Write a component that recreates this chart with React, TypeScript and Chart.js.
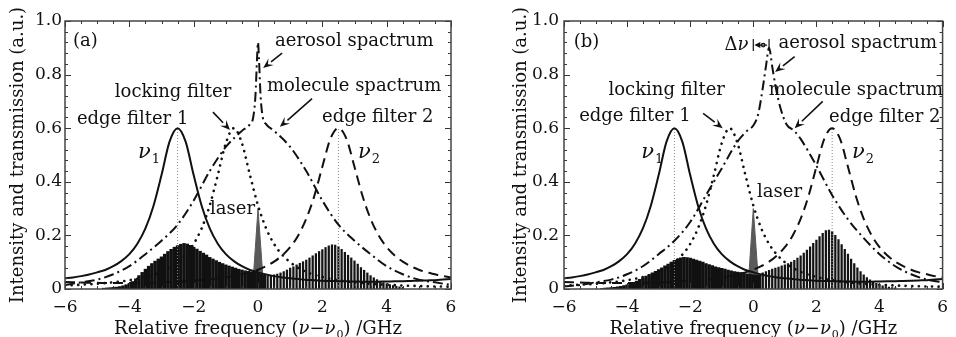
import React, { useEffect, useRef } from "react";
import { Chart, registerables } from "chart.js";

Chart.register(...registerables);

const SERIF = '"DejaVu Serif", "Liberation Serif", serif';

// ---------- data (GHz, a.u.) ----------
const gridX = [-6, -5.75, -5.5, -5.25, -5, -4.75, -4.5, -4.25, -4, -3.75, -3.5, -3.25, -3, -2.75, -2.5, -2.25, -2, -1.75, -1.5, -1.25, -1, -0.75, -0.5, -0.25, 0, 0.25, 0.5, 0.75, 1, 1.25, 1.5, 1.75, 2, 2.25, 2.5, 2.75, 3, 3.25, 3.5, 3.75, 4, 4.25, 4.5, 4.75, 5, 5.25, 5.5, 5.75, 6];

const edgeFilter1 = [0.040, 0.043, 0.048, 0.054, 0.062, 0.071, 0.085, 0.104, 0.130, 0.169, 0.226, 0.310, 0.425, 0.550, 0.600, 0.550, 0.425, 0.310, 0.226, 0.169, 0.130, 0.104, 0.085, 0.071, 0.062, 0.054, 0.048, 0.043, 0.040, 0.037, 0.034, 0.033, 0.031, 0.030, 0.029, 0.0285, 0.028, 0.0275, 0.027, 0.0275, 0.028, 0.0285, 0.029, 0.030, 0.031, 0.032, 0.033, 0.035, 0.037];

const edgeFilter2 = [0.026, 0.025, 0.024, 0.0235, 0.023, 0.0225, 0.022, 0.022, 0.022, 0.0225, 0.023, 0.0235, 0.024, 0.0255, 0.027, 0.029, 0.031, 0.0335, 0.036, 0.039, 0.043, 0.048, 0.055, 0.062, 0.072, 0.085, 0.102, 0.125, 0.156, 0.200, 0.262, 0.347, 0.456, 0.560, 0.600, 0.560, 0.456, 0.347, 0.262, 0.200, 0.156, 0.125, 0.102, 0.085, 0.072, 0.062, 0.055, 0.048, 0.043];

const lockingFilter = [0.013, 0.0143, 0.016, 0.0175, 0.0195, 0.022, 0.025, 0.028, 0.033, 0.038, 0.045, 0.053, 0.064, 0.079, 0.100, 0.128, 0.168, 0.227, 0.312, 0.425, 0.544, 0.600, 0.544, 0.425, 0.312, 0.227, 0.168, 0.128, 0.100, 0.079, 0.064, 0.053, 0.045, 0.038, 0.033, 0.028, 0.025, 0.022, 0.0195, 0.0175, 0.016, 0.0143, 0.013, 0.012, 0.011, 0.010, 0.0095, 0.009, 0.0085];

const moleculeXA = [-6, -5.5, -5, -4.5, -4, -3.5, -3, -2.5, -2, -1.5, -1, -0.5, -0.25, -0.15, -0.08, -0.03, 0, 0.03, 0.08, 0.15, 0.25, 0.5, 1, 1.5, 2, 2.5, 3, 3.5, 4, 4.5, 5, 5.5, 6];
const moleculeA = [0.015, 0.025, 0.035, 0.055, 0.085, 0.13, 0.18, 0.24, 0.33, 0.44, 0.53, 0.59, 0.615, 0.64, 0.72, 0.86, 0.92, 0.86, 0.72, 0.64, 0.615, 0.59, 0.53, 0.44, 0.33, 0.24, 0.18, 0.13, 0.085, 0.055, 0.035, 0.025, 0.015];

const moleculeXB = [-6, -5.5, -5, -4.5, -4, -3.5, -3, -2.5, -2, -1.5, -1, -0.5, -0.2, 0, 0.15, 0.3, 0.4, 0.5, 0.6, 0.7, 0.85, 1.05, 1.3, 1.5, 2, 2.5, 3, 3.5, 4, 4.5, 5, 5.5, 6];
const moleculeB = [0.01, 0.015, 0.025, 0.035, 0.055, 0.085, 0.13, 0.18, 0.25, 0.35, 0.45, 0.55, 0.59, 0.61, 0.65, 0.75, 0.83, 0.9, 0.83, 0.76, 0.68, 0.615, 0.59, 0.56, 0.46, 0.35, 0.26, 0.19, 0.13, 0.085, 0.055, 0.035, 0.025];

const laserX = [-0.17, 0, 0.18];
const laserY = [0, 0.3, 0];

const nu1 = -2.5;
const nu2 = 2.5;
const edgePeak = 0.6;

const filteredX1 = [-4.8, -4.7, -4.6, -4.5, -4.4, -4.3, -4.2, -4.1, -4.0, -3.9, -3.8, -3.7, -3.6, -3.5, -3.4, -3.3, -3.2, -3.1, -3.0, -2.9, -2.8, -2.7, -2.6, -2.5, -2.4, -2.3, -2.2, -2.1, -2.0, -1.9, -1.8, -1.7, -1.6, -1.5, -1.4, -1.3, -1.2, -1.1, -1.0, -0.9, -0.8, -0.7, -0.6, -0.5, -0.4, -0.3, -0.2, -0.1, 0.0, 0.1, 0.2];
const filtered1A = [0.003, 0.004, 0.005, 0.006, 0.007, 0.009, 0.012, 0.016, 0.021, 0.028, 0.038, 0.05, 0.062, 0.074, 0.085, 0.095, 0.104, 0.112, 0.12, 0.13, 0.14, 0.148, 0.156, 0.162, 0.167, 0.17, 0.168, 0.163, 0.156, 0.149, 0.141, 0.134, 0.127, 0.118, 0.112, 0.106, 0.1, 0.095, 0.09, 0.086, 0.082, 0.078, 0.074, 0.071, 0.068, 0.066, 0.064, 0.062, 0.06, 0.058, 0.052];
const filtered1B = [0.002, 0.003, 0.004, 0.005, 0.006, 0.008, 0.01, 0.013, 0.016, 0.02, 0.025, 0.03, 0.036, 0.042, 0.048, 0.054, 0.06, 0.066, 0.072, 0.079, 0.086, 0.093, 0.1, 0.107, 0.112, 0.116, 0.118, 0.117, 0.115, 0.112, 0.108, 0.104, 0.1, 0.095, 0.091, 0.087, 0.083, 0.08, 0.077, 0.074, 0.071, 0.068, 0.065, 0.063, 0.061, 0.059, 0.057, 0.055, 0.053, 0.052, 0.051];

const filteredX2 = [0.3, 0.4, 0.5, 0.6, 0.7, 0.8, 0.9, 1.0, 1.1, 1.2, 1.3, 1.4, 1.5, 1.6, 1.7, 1.8, 1.9, 2.0, 2.1, 2.2, 2.3, 2.4, 2.5, 2.6, 2.7, 2.8, 2.9, 3.0, 3.1, 3.2, 3.3, 3.4, 3.5, 3.6, 3.7, 3.8, 3.9, 4.0, 4.1, 4.2, 4.3, 4.4, 4.5];
const filtered2A = [0.048, 0.05, 0.053, 0.056, 0.06, 0.065, 0.071, 0.078, 0.083, 0.09, 0.096, 0.102, 0.108, 0.116, 0.124, 0.132, 0.14, 0.147, 0.155, 0.161, 0.165, 0.164, 0.158, 0.148, 0.137, 0.126, 0.116, 0.105, 0.093, 0.08, 0.07, 0.06, 0.05, 0.042, 0.035, 0.029, 0.024, 0.02, 0.016, 0.013, 0.01, 0.008, 0.006];
const filtered2B = [0.06, 0.065, 0.07, 0.074, 0.078, 0.082, 0.086, 0.09, 0.095, 0.1, 0.107, 0.115, 0.124, 0.134, 0.145, 0.157, 0.17, 0.183, 0.196, 0.208, 0.218, 0.22, 0.214, 0.2, 0.184, 0.166, 0.148, 0.13, 0.112, 0.095, 0.079, 0.065, 0.053, 0.043, 0.034, 0.027, 0.021, 0.016, 0.012, 0.009, 0.007, 0.005, 0.004];

const xTickLabels = ["\u22126", "\u22124", "\u22122", "0", "2", "4", "6"];
const yTickLabels = ["0", "0.2", "0.4", "0.6", "0.8", "1.0"];

// ---------- annotations ----------
type Seg = { t: string; it?: boolean; sub?: boolean };
type Note = { segs: Seg[]; x: number; y: number; size?: number; align?: "left" | "right" | "center" };
type Arrow = [number, number, number, number];
type Spec = {
  molX: number[]; molY: number[]; f1: number[]; f2: number[];
  yAxisWidth: number; padRight: number; yTitlePad: number; yTickPad: number;
  notes: Note[]; arrows: Arrow[]; delta?: { x0: number; x1: number; y: number };
};

const txt = (t: string): Seg[] => [{ t }];
const nuSegs = (d: string): Seg[] => [{ t: "\u03bd", it: true }, { t: d, sub: true }];

const specA: Spec = {
  molX: moleculeXA, molY: moleculeA, f1: filtered1A, f2: filtered2A,
  yAxisWidth: 65, padRight: 27, yTitlePad: 6, yTickPad: 3,
  notes: [
    { segs: txt("(a)"), x: -5.75, y: 0.907 },
    { segs: txt("aerosol spactrum"), x: 0.53, y: 0.905 },
    { segs: txt("molecule spactrum"), x: 0.28, y: 0.74 },
    { segs: txt("locking filter"), x: -4.45, y: 0.715 },
    { segs: txt("edge filter 1"), x: -5.63, y: 0.616 },
    { segs: txt("edge filter 2"), x: 1.99, y: 0.624 },
    { segs: txt("laser"), x: -1.49, y: 0.28 },
    { segs: nuSegs("1"), x: -3.73, y: 0.49, size: 21 },
    { segs: nuSegs("2"), x: 3.11, y: 0.49, size: 21 },
  ],
  arrows: [
    [0.75, 0.88, 0.16, 0.825],
    [-1.4, 0.66, -0.87, 0.593],
    [1.68, 0.71, 0.68, 0.605],
  ],
};

const specB: Spec = {
  molX: moleculeXB, molY: moleculeB, f1: filtered1B, f2: filtered2B,
  yAxisWidth: 86, padRight: 6, yTitlePad: 31, yTickPad: 5,
  notes: [
    { segs: txt("(b)"), x: -5.69, y: 0.904 },
    { segs: txt("aerosol spactrum"), x: 0.8, y: 0.898 },
    { segs: [{ t: "\u0394" }, { t: "\u03bd", it: true }], x: -0.15, y: 0.89, align: "right" },
    { segs: txt("molecule spactrum"), x: 0.49, y: 0.724 },
    { segs: txt("locking filter"), x: -4.59, y: 0.724 },
    { segs: txt("edge filter 1"), x: -5.52, y: 0.628 },
    { segs: txt("edge filter 2"), x: 2.4, y: 0.624 },
    { segs: txt("laser"), x: 0.12, y: 0.344 },
    { segs: nuSegs("1"), x: -3.55, y: 0.49, size: 21 },
    { segs: nuSegs("2"), x: 3.13, y: 0.49, size: 21 },
  ],
  arrows: [
    [1.31, 0.867, 0.69, 0.81],
    [2.2, 0.7, 1.31, 0.6],
    [-1.59, 0.655, -0.97, 0.6],
  ],
  delta: { x0: 0, x1: 0.5, y: 0.91 },
};

// ---------- drawing helpers ----------
function drawSegs(ctx: CanvasRenderingContext2D, segs: Seg[], x: number, y: number, size: number, align: string) {
  const fontOf = (s: Seg) => `${s.it ? "italic " : ""}${s.sub ? Math.round(size * 0.62) : size}px ${SERIF}`;
  let total = 0;
  const widths = segs.map((s) => {
    ctx.font = fontOf(s);
    const w = ctx.measureText(s.t).width + (s.sub ? 1 : 0);
    total += w;
    return w;
  });
  let cx = align === "right" ? x - total : align === "center" ? x - total / 2 : x;
  ctx.textAlign = "left";
  ctx.textBaseline = "alphabetic";
  segs.forEach((s, i) => {
    ctx.font = fontOf(s);
    ctx.fillText(s.t, cx + (s.sub ? 1 : 0), s.sub ? y + size * 0.24 : y);
    cx += widths[i];
  });
}

function drawArrow(ctx: CanvasRenderingContext2D, x1: number, y1: number, x2: number, y2: number) {
  const ang = Math.atan2(y2 - y1, x2 - x1);
  const L = 10, W = 4.2;
  const bx = x2 - L * Math.cos(ang), by = y2 - L * Math.sin(ang);
  ctx.beginPath();
  ctx.moveTo(x1, y1);
  ctx.lineTo(bx, by);
  ctx.stroke();
  ctx.beginPath();
  ctx.moveTo(x2, y2);
  ctx.lineTo(bx + W * Math.sin(ang), by - W * Math.cos(ang));
  ctx.lineTo(x2 - 0.6 * L * Math.cos(ang), y2 - 0.6 * L * Math.sin(ang));
  ctx.lineTo(bx - W * Math.sin(ang), by + W * Math.cos(ang));
  ctx.closePath();
  ctx.fill();
}

const pts = (xs: number[], ys: number[]) => xs.map((x, i) => ({ x, y: ys[i] }));

function overlay(spec: Spec) {
  return {
    id: "overlay",
    afterDatasetsDraw(chart: any) {
      const { ctx, chartArea: a } = chart;
      const sx = chart.scales.x, sy = chart.scales.y;
      const X = (v: number) => sx.getPixelForValue(v);
      const Y = (v: number) => sy.getPixelForValue(v);
      ctx.save();
      // inward ticks on all sides
      ctx.strokeStyle = "#333";
      ctx.lineWidth = 1;
      ctx.beginPath();
      for (let i = 0; i <= 24; i++) {
        const p = Math.round(X(-6 + i * 0.5)) + 0.5;
        const L = i % 4 === 0 ? 6 : 3;
        ctx.moveTo(p, a.bottom); ctx.lineTo(p, a.bottom - L);
        ctx.moveTo(p, a.top); ctx.lineTo(p, a.top + L);
      }
      for (let i = 0; i <= 25; i++) {
        const p = Math.round(Y(i * 0.04)) + 0.5;
        const L = i % 5 === 0 ? 6 : 3;
        ctx.moveTo(a.left, p); ctx.lineTo(a.left + L, p);
        ctx.moveTo(a.right, p); ctx.lineTo(a.right - L, p);
      }
      ctx.stroke();
      ctx.lineWidth = 1.5;
      ctx.strokeStyle = "#444";
      ctx.strokeRect(a.left, a.top, a.right - a.left, a.bottom - a.top);

      // texts
      ctx.fillStyle = "#111";
      for (const n of spec.notes) drawSegs(ctx, n.segs, X(n.x), Y(n.y), n.size ?? 18, n.align ?? "left");

      // arrows
      ctx.strokeStyle = "#111";
      ctx.lineWidth = 1.6;
      for (const [x1, y1, x2, y2] of spec.arrows) drawArrow(ctx, X(x1), Y(y1), X(x2), Y(y2));

      if (spec.delta) {
        const d = spec.delta;
        const px0 = X(d.x0), px1 = X(d.x1), py = Y(d.y);
        ctx.lineWidth = 1.2;
        ctx.beginPath();
        ctx.moveTo(px0, py - 6); ctx.lineTo(px0, py + 6);
        ctx.moveTo(px1, py - 6); ctx.lineTo(px1, py + 6);
        ctx.stroke();
        const W = 3;
        ctx.beginPath();
        ctx.moveTo(px1 - 2, py); ctx.lineTo(px0 + 5, py); ctx.stroke();
        ctx.beginPath();
        ctx.moveTo(px0 + 1, py); ctx.lineTo(px0 + 7, py - W); ctx.lineTo(px0 + 7, py + W); ctx.closePath(); ctx.fill();
        ctx.beginPath(); ctx.arc((px0 + px1) / 2 + 2, py, 1.8, 0, Math.PI * 2); ctx.stroke();
      }

      // x axis title with italic nu and subscript
      ctx.fillStyle = "#111";
      drawSegs(ctx, [
        { t: "Relative frequency (" }, { t: "\u03bd", it: true }, { t: "\u2212" },
        { t: "\u03bd", it: true }, { t: "0", sub: true }, { t: ") /GHz" },
      ], (a.left + a.right) / 2, 334, 18, "center");
      ctx.restore();
    },
  };
}

function buildConfig(spec: Spec): any {
  const line = {
    type: "line", pointRadius: 0, fill: false, borderColor: "#111",
    cubicInterpolationMode: "monotone", borderJoinStyle: "round", order: 1,
  };
  const guide = { type: "line", borderColor: "#8a8a8a", borderWidth: 1, borderDash: [1, 2], pointRadius: 0, fill: false, order: 2 };
  return {
    type: "line",
    data: {
      datasets: [
        { ...line, label: "edge filter 1", data: pts(gridX, edgeFilter1), borderWidth: 2 },
        { ...line, label: "edge filter 2", data: pts(gridX, edgeFilter2), borderWidth: 2, borderDash: [10, 6] },
        { ...line, label: "locking filter", data: pts(gridX, lockingFilter), borderWidth: 2.6, borderDash: [0.1, 6.5], borderCapStyle: "round" },
        { ...line, label: "molecule spactrum", data: pts(spec.molX, spec.molY), borderWidth: 2, borderDash: [10, 4, 2, 4] },
        { ...guide, label: "nu1", data: [{ x: nu1, y: 0 }, { x: nu1, y: edgePeak }] },
        { ...guide, label: "nu2", data: [{ x: nu2, y: 0 }, { x: nu2, y: edgePeak }] },
        {
          type: "line", label: "laser", data: pts(laserX, laserY), borderColor: "#5a5a5a",
          backgroundColor: "#5a5a5a", fill: "origin", borderWidth: 1, pointRadius: 0, tension: 0, order: 20,
        },
        { type: "bar", label: "filtered 1", data: pts(filteredX1, spec.f1), backgroundColor: "#111", barThickness: 2.8, grouped: false, order: 10 },
        { type: "bar", label: "filtered 2", data: pts(filteredX2, spec.f2), backgroundColor: "#141414", barThickness: 1.6, grouped: false, order: 10 },
      ],
    },
    options: {
      animation: false,
      responsive: true,
      maintainAspectRatio: false,
      layout: { padding: { left: 0, right: spec.padRight, top: 21, bottom: 0 } },
      plugins: { legend: { display: false }, tooltip: { enabled: false } },
      scales: {
        x: {
          type: "linear", min: -6, max: 6, offset: false,
          grid: { display: false, drawTicks: false }, border: { display: false },
          ticks: {
            stepSize: 2, padding: 8, color: "#111", maxRotation: 0, autoSkip: false,
            font: { family: SERIF, size: 17 },
            callback: (_v: any, i: number) => xTickLabels[i],
          },
          afterFit: (s: any) => { s.height = 48; },
        },
        y: {
          type: "linear", min: 0, max: 1,
          grid: { display: false, drawTicks: false }, border: { display: false },
          ticks: {
            stepSize: 0.2, padding: spec.yTickPad, color: "#111",
            font: { family: SERIF, size: 17 },
            callback: (_v: any, i: number) => yTickLabels[i],
          },
          title: {
            display: true, text: "Intensity and transmission (a.u.)", color: "#111",
            font: { family: SERIF, size: 18 }, padding: { top: spec.yTitlePad + 2, bottom: 0 },
          },
          afterFit: (s: any) => { s.width = spec.yAxisWidth; },
        },
      },
    },
    plugins: [overlay(spec)],
  };
}

function Panel({ spec, left }: { spec: Spec; left: number }) {
  const ref = useRef<HTMLCanvasElement | null>(null);
  useEffect(() => {
    if (!ref.current) return;
    const chart = new Chart(ref.current, buildConfig(spec));
    return () => chart.destroy();
  }, [spec]);
  return (
    <div style={{ position: "absolute", left, top: 0, width: 478, height: 337 }}>
      <canvas ref={ref} />
    </div>
  );
}

export default function App() {
  return (
    <div style={{ position: "fixed", left: 0, top: 0, width: 956, height: 337, background: "#fff", overflow: "hidden" }}>
      <Panel spec={specA} left={0} />
      <Panel spec={specB} left={478} />
    </div>
  );
}
